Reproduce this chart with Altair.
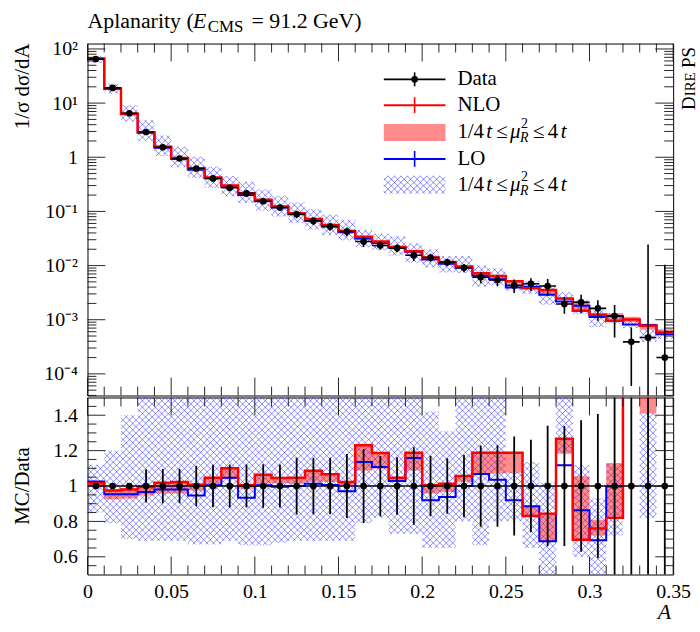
import json
import math

import altair as alt
import pandas as pd

# ---------------------------------------------------------------------------
# Aplanarity at the Z pole: data versus DIRE parton shower (NLO and LO)
# ---------------------------------------------------------------------------
edges = [0.00, 0.01, 0.02, 0.03, 0.04, 0.05, 0.06, 0.07, 0.08, 0.09,
         0.10, 0.11, 0.12, 0.13, 0.14, 0.15, 0.16, 0.17, 0.18, 0.19,
         0.20, 0.21, 0.22, 0.23, 0.24, 0.25, 0.26, 0.27, 0.28, 0.29,
         0.30, 0.31, 0.32, 0.33, 0.34, 0.35]

# measured 1/sigma dsigma/dA and its total uncertainty
data = [65, 19.1, 6.5, 2.93, 1.53, 0.947, 0.62, 0.406, 0.273, 0.215,
        0.154, 0.118, 0.0886, 0.0668, 0.0525, 0.0425, 0.0278, 0.0235, 0.021, 0.0155,
        0.0141, 0.0115, 0.0091, 0.0061, 0.0054, 0.0043, 0.0046, 0.0042, 0.00195, 0.0021,
        0.00162, 0.00117, 0.00039, 0.00047, 0.0002]
data_err = [0.26, 0.11, 0.05, 0.275, 0.148, 0.092, 0.071, 0.049, 0.033, 0.026,
            0.019, 0.0144, 0.0142, 0.0107, 0.0084, 0.0077, 0.0058, 0.0040, 0.0034, 0.0034,
            0.0024, 0.0018, 0.0016, 0.0014, 0.00124, 0.0012, 0.0012, 0.00143, 0.00066, 0.00078,
            0.00066, 0.0007, 0.00033, 0.024, 0.0102]

# predictions, expressed as MC / Data
nlo_ratio = [1.015, 0.975, 0.98, 0.994, 1.019, 1.022, 1.007, 1.047, 1.10, 1.004,
             1.064, 1.045, 1.047, 1.086, 1.066, 1.023, 1.23, 1.186, 1.047, 1.188,
             1.004, 1.013, 1.056, 1.188, 1.188, 1.188, 0.83, 0.844, 1.267, 0.697,
             0.76, 0.82, 2.6, 1.65, 2.9]
nlo_band_lo = [1.0, 0.925, 0.93, 0.947, 0.957, 0.957, 0.975, 1.004, 1.04, 0.985,
               1.013, 1.015, 1.013, 1.023, 1.023, 1.004, 1.088, 1.098, 1.026, 1.088,
               0.957, 0.966, 1.023, 1.07, 1.07, 1.075, 0.826, 0.688, 1.182, 0.694,
               0.72, 0.818, 2.3, 1.41, 2.6]
nlo_band_hi = [1.025, 0.98, 0.99, 1.0, 1.022, 1.026, 1.013, 1.05, 1.105, 1.008,
               1.068, 1.048, 1.05, 1.09, 1.07, 1.026, 1.234, 1.19, 1.05, 1.192,
               1.006, 1.016, 1.06, 1.192, 1.192, 1.192, 0.885, 0.848, 1.27, 1.055,
               0.81, 1.13, 2.9, 1.8, 3.3]
lo_ratio = [1.025, 0.953, 0.953, 0.966, 0.98, 0.98, 0.947, 1.004, 1.047, 0.934,
            1.004, 0.996, 1.0, 1.013, 1.006, 0.97, 1.135, 1.107, 1.028, 1.158,
            0.919, 0.938, 1.0, 1.068, 1.036, 0.919, 0.885, 0.688, 1.117, 0.863,
            0.694, 0.997, 2.1, 1.7, 2.7]
lo_band_lo = [0.85, 0.79, 0.70, 0.69, 0.69, 0.69, 0.67, 0.67, 0.69, 0.665,
              0.665, 0.68, 0.69, 0.69, 0.69, 0.69, 0.79, 0.82, 0.73, 0.73,
              0.65, 0.65, 0.80, 0.665, 0.80, 0.80, 0.65, 0.45, 1.19, 0.60,
              0.45, 0.72, 1.8, 0.82, 2.2]
lo_band_hi = [1.12, 1.20, 1.40, 1.65, 1.65, 1.65, 1.65, 1.65, 1.65, 1.65,
              1.65, 1.65, 1.65, 1.65, 1.65, 1.65, 1.65, 1.65, 1.65, 1.65,
              1.42, 1.31, 1.65, 1.65, 1.65, 1.08, 1.135, 1.02, 1.65, 1.117,
              0.93, 1.126, 2.7, 1.41, 3.4]

# axis ticks and labels
x_major = [0.0, 0.05, 0.10, 0.15, 0.20, 0.25, 0.30, 0.35]
x_minor = [0.01, 0.02, 0.03, 0.04, 0.06, 0.07, 0.08, 0.09, 0.11, 0.12, 0.13, 0.14,
           0.16, 0.17, 0.18, 0.19, 0.21, 0.22, 0.23, 0.24, 0.26, 0.27, 0.28, 0.29,
           0.31, 0.32, 0.33, 0.34]
y_top_major = [1e-4, 1e-3, 1e-2, 1e-1, 1.0, 10.0, 100.0]
y_top_labels = ["10⁻⁴", "10⁻³", "10⁻²", "10⁻¹", "1", "10¹", "10²"]
y_top_minor = [m * 10.0 ** e for e in range(-5, 2) for m in range(2, 10)
               if 10 ** -4.4 < m * 10.0 ** e < 10 ** 2.1]
y_rat_major = [0.6, 0.8, 1.0, 1.2, 1.4]
y_rat_minor = [0.55, 0.65, 0.7, 0.75, 0.85, 0.9, 0.95, 1.05, 1.1, 1.15,
               1.25, 1.3, 1.35, 1.45]

# ---------------------------------------------------------------------------
W, H_TOP, H_RAT = 589, 354, 178
X_MAX = 0.35
LOG_LO, LOG_HI = -4.4, 2.1
R_LO, R_HI = 0.5, 1.5
FONT = "Liberation Serif"
HATCH = 6.5
RED, BLUE = "#ff0000", "#0000ff"

xs = alt.Scale(domain=[0.0, X_MAX], nice=False, zero=False)
yt = alt.Scale(type="log", domain=[10 ** LOG_LO, 10 ** LOG_HI], nice=False)
yr = alt.Scale(domain=[R_LO, R_HI], nice=False, zero=False)

yax_top = alt.Axis(values=y_top_major, ticks=False, domain=False, grid=False,
                   labelExpr=json.dumps(y_top_labels) + "[round(log(datum.value)/LN10)+4]",
                   labelFont=FONT, labelFontSize=20, labelPadding=10,
                   labelColor="black", title=None)
yax_rat = alt.Axis(values=y_rat_major, ticks=False, domain=False, grid=False,
                   labelExpr="datum.value == 1 ? '1' : format(datum.value, '.1f')",
                   labelFont=FONT, labelFontSize=20, labelPadding=10,
                   labelColor="black", title=None)
xax_rat = alt.Axis(values=x_major, format="~g", ticks=False, domain=False, grid=False,
                   labelFont=FONT, labelFontSize=20, labelPadding=7,
                   labelFlush=False, labelOverlap=False, labelColor="black", title=None)

n = len(data)
lo_e, hi_e = edges[:-1], edges[1:]
mid = [(a + b) / 2 for a, b in zip(lo_e, hi_e)]

bins = pd.DataFrame({
    "lo": lo_e, "hi": hi_e, "mid": mid,
    "data": data, "err": data_err,
})
bins["err_lo"] = [max(d - e, 1e-7) for d, e in zip(data, data_err)]
bins["err_hi"] = [d + e for d, e in zip(data, data_err)]
bins["r_err_lo"] = [max(1 - e / d, -5) for d, e in zip(data, data_err)]
bins["r_err_hi"] = [min(1 + e / d, 5) for d, e in zip(data, data_err)]
bins["one"] = 1.0
bins["nlo_lo"] = [d * r for d, r in zip(data, nlo_band_lo)]
bins["nlo_hi"] = [d * r for d, r in zip(data, nlo_band_hi)]
bins["r_nlo_lo"] = nlo_band_lo
bins["r_nlo_hi"] = nlo_band_hi


def steps(values):
    rows = []
    for i in range(n):
        rows.append({"x": lo_e[i], "y": values[i], "o": 2 * i})
        rows.append({"x": hi_e[i], "y": values[i], "o": 2 * i + 1})
    return pd.DataFrame(rows)


nlo_abs = [d * r for d, r in zip(data, nlo_ratio)]
lo_abs = [d * r for d, r in zip(data, lo_ratio)]


# --- cross-hatch fill: a diagonal lattice cut to each rectangle -------------
def to_px(x):
    return x / X_MAX * W


def from_px(p):
    return p / W * X_MAX


def top_py(v):
    return (LOG_HI - math.log10(v)) / (LOG_HI - LOG_LO) * H_TOP


def top_val(p):
    return 10 ** (LOG_HI - p / H_TOP * (LOG_HI - LOG_LO))


def rat_py(r):
    return (R_HI - r) / (R_HI - R_LO) * H_RAT


def rat_val(p):
    return R_HI - p / H_RAT * (R_HI - R_LO)


def lattice(x0, x1, y0, y1, s=HATCH):
    segs = []
    if x1 <= x0 or y1 <= y0:
        return segs
    for k in range(math.ceil((y0 - x1) / s), math.floor((y1 - x0) / s) + 1):
        c = k * s
        a, b = max(x0, y0 - c), min(x1, y1 - c)
        if b > a:
            segs.append((a, a + c, b, b + c))
    for k in range(math.ceil((x0 + y0) / s), math.floor((x1 + y1) / s) + 1):
        c = k * s
        a, b = max(x0, c - y1), min(x1, c - y0)
        if b > a:
            segs.append((a, c - a, b, c - b))
    return segs


def hatch_rows(rects, val):
    rows = []
    for x0, x1, y0, y1 in rects:
        for a, ya, b, yb in lattice(x0, x1, y0, y1):
            rows.append({"x": from_px(a), "y": val(ya), "x2": from_px(b), "y2": val(yb)})
    return pd.DataFrame(rows)


top_rects = []
rat_rects = []
for i in range(n):
    x0, x1 = to_px(lo_e[i]), to_px(hi_e[i])
    top_rects.append((x0, x1, max(0.0, top_py(data[i] * lo_band_hi[i])),
                      min(H_TOP, top_py(data[i] * lo_band_lo[i]))))
    rat_rects.append((x0, x1, max(0.0, rat_py(lo_band_hi[i])),
                      min(H_RAT, rat_py(lo_band_lo[i]))))
# legend swatch
top_rects.append((298, 360, 133, 151))

hatch_top = hatch_rows(top_rects, top_val)
hatch_rat = hatch_rows(rat_rects, rat_val)

one_row = pd.DataFrame({"k": [0]})


def text(txt, x, y, size=21, italic=False, align="left", baseline="alphabetic", angle=0):
    kw = dict(text=txt, font=FONT, fontSize=size, align=align, baseline=baseline,
              color="black")
    if italic:
        kw["fontStyle"] = "italic"
    if angle:
        kw["angle"] = angle
    return alt.Chart(one_row).mark_text(**kw).encode(x=alt.value(x), y=alt.value(y))


def vrule(x, y1, y2, color, width):
    return alt.Chart(one_row).mark_rule(color=color, strokeWidth=width).encode(
        x=alt.value(x), y=alt.value(y1), y2=alt.value(y2))


def hrule(x1, x2, y, color, width):
    return alt.Chart(one_row).mark_rule(color=color, strokeWidth=width).encode(
        x=alt.value(x1), x2=alt.value(x2), y=alt.value(y))


def frame_ticks(height, yscale, ymajor, yminor, yaxis):
    layers = []
    for vals, ln in ((x_major, 18), (x_minor, 9)):
        df = pd.DataFrame({"v": vals})
        for y1, y2 in ((0, ln), (height, height - ln)):
            layers.append(alt.Chart(df).mark_rule(color="#111", strokeWidth=0.9).encode(
                x=alt.X("v:Q", scale=xs, axis=xax_rat if yaxis is yax_rat else None),
                y=alt.value(y1), y2=alt.value(y2)))
    for vals, ln in ((ymajor, 18), (yminor, 9)):
        df = pd.DataFrame({"v": vals})
        for x1, x2 in ((0, ln), (W, W - ln)):
            layers.append(alt.Chart(df).mark_rule(color="#111", strokeWidth=0.9).encode(
                y=alt.Y("v:Q", scale=yscale, axis=yaxis),
                x=alt.value(x1), x2=alt.value(x2)))
    return layers


HATCH_STYLE = dict(color=BLUE, strokeWidth=0.75, opacity=0.6, clip=True)

# ---------------------------------------------------------------------------
# upper panel
# ---------------------------------------------------------------------------
XT = dict(scale=xs, axis=None)

top_layers = [
    alt.Chart(hatch_top).mark_rule(**HATCH_STYLE).encode(
        x=alt.X("x:Q", **XT), x2="x2:Q",
        y=alt.Y("y:Q", scale=yt, axis=yax_top), y2="y2:Q"),
    alt.Chart(bins).mark_rect(color=RED, opacity=0.45, clip=True).encode(
        x=alt.X("lo:Q", **XT), x2="hi:Q",
        y=alt.Y("nlo_lo:Q", scale=yt, axis=yax_top), y2="nlo_hi:Q"),
    alt.Chart(steps(lo_abs)).mark_line(color=BLUE, strokeWidth=2, clip=True).encode(
        x=alt.X("x:Q", **XT), y=alt.Y("y:Q", scale=yt, axis=yax_top), order="o:Q"),
    alt.Chart(steps(nlo_abs)).mark_line(color=RED, strokeWidth=2.5, clip=True).encode(
        x=alt.X("x:Q", **XT), y=alt.Y("y:Q", scale=yt, axis=yax_top), order="o:Q"),
    alt.Chart(bins).mark_rule(color="black", strokeWidth=1.6, clip=True).encode(
        x=alt.X("lo:Q", **XT), x2="hi:Q", y=alt.Y("data:Q", scale=yt, axis=yax_top)),
    alt.Chart(bins).mark_rule(color="black", strokeWidth=1.6, clip=True).encode(
        x=alt.X("mid:Q", **XT), y=alt.Y("err_lo:Q", scale=yt, axis=yax_top), y2="err_hi:Q"),
    alt.Chart(bins).mark_point(filled=True, color="black", opacity=1, size=45, clip=True).encode(
        x=alt.X("mid:Q", **XT), y=alt.Y("data:Q", scale=yt, axis=yax_top)),
]
top_layers += frame_ticks(H_TOP, yt, y_top_major, y_top_minor, yax_top)

# legend
LX0, LX1, LXC, TX = 298, 360, 329, 372
top_layers += [
    hrule(LX0, LX1, 36, "black", 1.6), vrule(LXC, 29, 43, "black", 1.6),
    alt.Chart(one_row).mark_point(filled=True, color="black", opacity=1, size=45).encode(
        x=alt.value(LXC), y=alt.value(36)),
    hrule(LX0, LX1, 62, RED, 2), vrule(LXC, 54, 70, RED, 1.6),
    alt.Chart(one_row).mark_rect(color=RED, opacity=0.45).encode(
        x=alt.value(LX0), x2=alt.value(LX1), y=alt.value(81), y2=alt.value(98)),
    hrule(LX0, LX1, 116, BLUE, 2), vrule(LXC, 108, 124, BLUE, 1.6),
    text("Data", TX, 36, baseline="middle"),
    text("NLO", TX, 62, baseline="middle"),
    text("LO", TX, 116, baseline="middle"),
]
for yy in (89, 142):
    top_layers += [
        text("1/4", TX, yy, baseline="middle"),
        text("t", TX + 29, yy, italic=True, baseline="middle"),
        text("≤", TX + 39, yy, baseline="middle"),
        text("μ", TX + 53, yy, italic=True, baseline="middle"),
        text("2", TX + 64, yy - 8, size=14, baseline="middle"),
        text("R", TX + 63, yy + 6, size=14, italic=True, baseline="middle"),
        text("≤", TX + 76, yy, baseline="middle"),
        text("4", TX + 91, yy, baseline="middle"),
        text("t", TX + 104, yy, italic=True, baseline="middle"),
    ]

# titles and side labels
top_layers += [
    text("Aplanarity (", 0, -16, size=22),
    text("E", 106, -16, size=22, italic=True),
    text("CMS", 121, -12, size=17),
    text("= 91.2 GeV)", 165, -16, size=22),
    text("1/σ dσ/dA", -65, 0, align="right", baseline="middle", angle=270),
    text("D", 611, 60, size=19, align="center", angle=270),
    text("IRE", 611, 41, size=15, align="center", angle=270),
    text("PS", 611, 14, size=19, align="center", angle=270),
    alt.Chart(one_row).mark_rect(opacity=0).encode(
        x=alt.value(-87), x2=alt.value(-80), y=alt.value(-41), y2=alt.value(-35)),
]

top = alt.layer(*top_layers).properties(width=W, height=H_TOP)

# ---------------------------------------------------------------------------
# ratio panel
# ---------------------------------------------------------------------------
XR = dict(scale=xs, axis=xax_rat)
rat_layers = [
    alt.Chart(hatch_rat).mark_rule(**HATCH_STYLE).encode(
        x=alt.X("x:Q", **XR), x2="x2:Q",
        y=alt.Y("y:Q", scale=yr, axis=yax_rat), y2="y2:Q"),
    alt.Chart(bins).mark_rect(color=RED, opacity=0.45, clip=True).encode(
        x=alt.X("lo:Q", **XR), x2="hi:Q",
        y=alt.Y("r_nlo_lo:Q", scale=yr, axis=yax_rat), y2="r_nlo_hi:Q"),
    alt.Chart(steps(lo_ratio)).mark_line(color=BLUE, strokeWidth=2, clip=True).encode(
        x=alt.X("x:Q", **XR), y=alt.Y("y:Q", scale=yr, axis=yax_rat), order="o:Q"),
    alt.Chart(steps(nlo_ratio)).mark_line(color=RED, strokeWidth=2.5, clip=True).encode(
        x=alt.X("x:Q", **XR), y=alt.Y("y:Q", scale=yr, axis=yax_rat), order="o:Q"),
    alt.Chart(bins).mark_rule(color="black", strokeWidth=1.6, clip=True).encode(
        x=alt.X("lo:Q", **XR), x2="hi:Q", y=alt.Y("one:Q", scale=yr, axis=yax_rat)),
    alt.Chart(bins).mark_rule(color="black", strokeWidth=1.8, clip=True).encode(
        x=alt.X("mid:Q", **XR), y=alt.Y("r_err_lo:Q", scale=yr, axis=yax_rat), y2="r_err_hi:Q"),
    alt.Chart(bins).mark_point(filled=True, color="black", opacity=1, size=45, clip=True).encode(
        x=alt.X("mid:Q", **XR), y=alt.Y("one:Q", scale=yr, axis=yax_rat)),
]
rat_layers += frame_ticks(H_RAT, yr, y_rat_major, y_rat_minor, yax_rat)
rat_layers += [
    text("MC/Data", -65, H_RAT / 2, align="center", baseline="middle", angle=270),
    text("A", W - 2, H_RAT + 45, size=22, italic=True, align="right"),
]
ratio = alt.layer(*rat_layers).properties(width=W, height=H_RAT)

chart = (
    alt.vconcat(top, ratio, spacing=0)
    .properties(padding=0, background="white")
    .configure_view(stroke="black", strokeWidth=1)
)

chart.save("out.html", embed_options={"renderer": "svg", "actions": False})
